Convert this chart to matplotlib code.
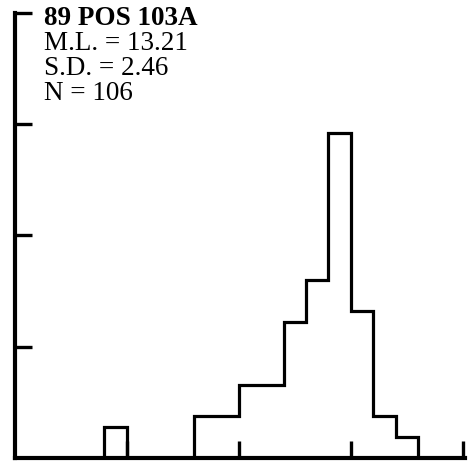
import numpy as np
import matplotlib
matplotlib.use("Agg")
import matplotlib.pyplot as plt

# length-class histogram, counts per 1-unit bin (N = 106), plotted as percent
edges = [4, 5, 6, 7, 8, 9, 10, 11, 12, 13, 14, 15, 16, 17, 18]
counts = [3, 0, 0, 0, 4, 4, 7, 7, 13, 17, 31, 14, 4, 2]
n_total = 106
label_lines = ["89 POS 103A", "M.L. = 13.21", "S.D. = 2.46", "N = 106"]
xticks = [5, 10, 15, 20]
yticks = [10, 20, 30, 40]

pct = np.array(counts) / n_total * 100

W, H = 473, 461
fig = plt.figure(figsize=(W / 100, H / 100), dpi=100)
ax = fig.add_axes([14.5 / W, 3 / H, (463 - 14.5) / W, (458 - 13) / H])

ax.stairs(pct, edges, color="black", lw=2.3, baseline=0)

ax.set_xlim(0, 20)
ax.set_ylim(0, 40)
ax.spines["top"].set_visible(False)
ax.spines["right"].set_visible(False)
for s in ("left", "bottom"):
    ax.spines[s].set_linewidth(3)
    ax.spines[s].set_clip_on(False)
ax.spines["bottom"].set_bounds(0, 20.1)

ax.set_xticks(xticks)
ax.set_yticks(yticks)
ax.tick_params(direction="in", length=12, width=2.4, labelbottom=False, labelleft=False)

# text block, upper left
font = "Liberation Serif"
ys = [25, 50, 75, 100]
for i, (txt, yy) in enumerate(zip(label_lines, ys)):
    fig.text(44 / W, 1 - yy / H, txt, fontsize=19.5, family=font,
             fontweight="bold" if i == 0 else "normal", va="baseline", ha="left")

fig.savefig("out.png", dpi=100)
